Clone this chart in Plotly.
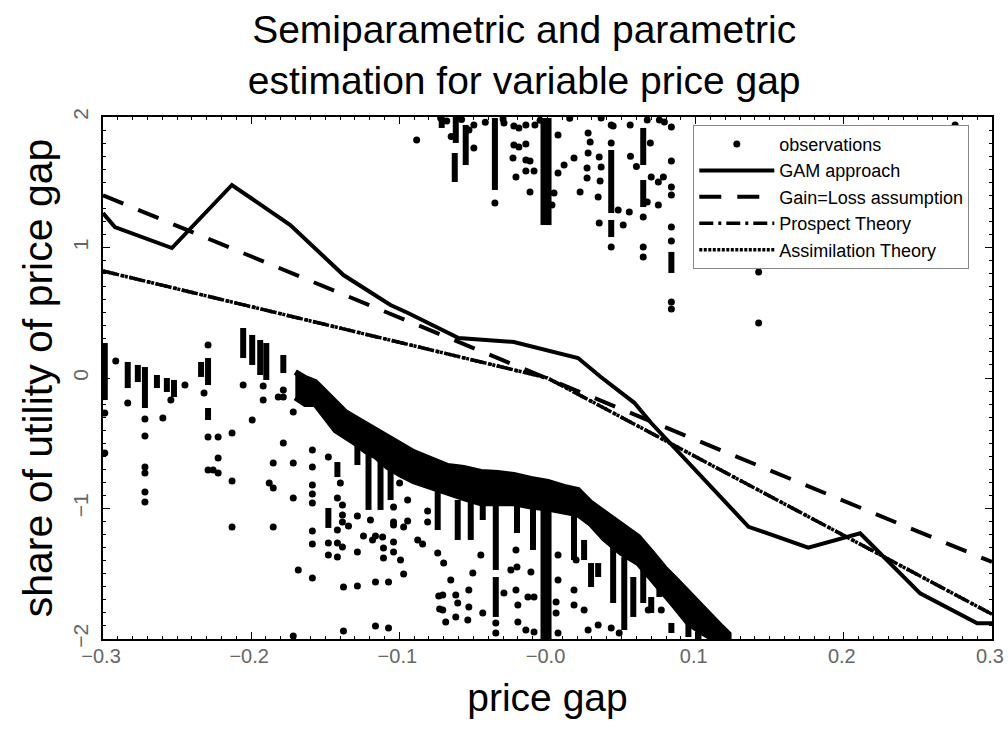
import plotly.graph_objects as go

# ---------------- data ----------------
# GAM approach (semiparametric estimate)
gam_x = [-0.300, -0.292, -0.2535, -0.213, -0.1736, -0.1377, -0.106, -0.0945, -0.060,
         -0.0227, 0.0206, 0.036, 0.0586, 0.070, 0.1357, 0.176, 0.211, 0.2515, 0.290, 0.300]
gam_y = [1.264, 1.157, 0.996, 1.479, 1.172, 0.789, 0.559, 0.50, 0.307,
         0.276, 0.153, 0.008, -0.19, -0.345, -1.14, -1.30, -1.19, -1.65, -1.88, -1.88]

# Gain=Loss assumption
gl_x = [-0.300, 0.300]
gl_y = [1.40, -1.41]

# Prospect Theory
pt_x = [-0.300, 0.000, 0.300]
pt_y = [0.82, 0.000, -1.81]

# Assimilation Theory
at_x = [-0.300, 0.000, 0.300]
at_y = [0.82, 0.000, -1.81]

# observations: single points
obs_x = [
    # upper cluster
    -0.0883, -0.0497, -0.0497, -0.0355, -0.0294, -0.0227, -0.0193, -0.0146, -0.0085, -0.0227,
    -0.0193, -0.0146, -0.0233, -0.0146, -0.0118, -0.0146, -0.0091, -0.0213, -0.0118, 0.0071,
    0.0071, 0.0112, 0.0044, 0.0030, 0.0179, 0.0220, 0.0274, 0.0288, 0.0274, 0.0267,
    0.0267, 0.0349, 0.0362, 0.0355, 0.0342, 0.0349, 0.0430, 0.0430, 0.0430, 0.0477,
    0.0511, 0.0552, 0.0558, 0.0646, 0.0646, 0.0646, 0.0673, 0.0694, 0.0700, 0.0748,
    0.0782, 0.0748, 0.0673, 0.0755, 0.0836, 0.0836, 0.0836, 0.0836, 0.0836, 0.0836,
    0.0836, 0.0836, 0.1425, 0.1425, 0.1695, 0.2751, -0.0721, 0.0362, 0.0789, 0.0443,
    -0.0680, -0.0650, -0.0580, -0.0530, -0.0420, -0.0300, -0.0050, 0.0150, 0.0560, 0.0600,
    # lower-left cluster
    -0.2988, -0.2988, -0.2914, -0.2833, -0.2717, -0.2717, -0.2717, -0.2717, -0.2717, -0.2717,
    -0.2596, -0.2542, -0.2447, -0.2318, -0.2291, -0.2291, -0.2291, -0.2223, -0.2223, -0.2257,
    -0.2223, -0.2129, -0.2129, -0.2129, -0.2054, -0.1993, -0.1919, -0.1919, -0.1851, -0.1878,
    -0.1851, -0.1851, -0.1783, -0.1783, -0.1783, -0.1817, -0.1716, -0.1716, -0.1716, -0.1682,
    -0.1716,
    -0.1587, -0.1587, -0.1587, -0.1587, -0.1587, -0.1587, -0.1587, -0.1587,
    -0.1479, -0.1479, -0.1479, -0.1398, -0.1418, -0.1384, -0.1384, -0.1384, -0.1418, -0.1418,
    -0.1384, -0.1418, -0.1377, -0.1377, -0.1343, -0.1283, -0.1283, -0.1283, -0.1242, -0.1195,
    -0.1181, -0.1161, -0.1113, -0.1107, -0.1107, -0.1161, -0.1161, -0.1073, -0.1073, -0.1039,
    -0.1039, -0.1039, -0.1039, -0.1039, -0.0992, -0.0971, -0.0998, -0.0944, -0.0944, -0.0971,
    -0.0876, -0.0843, -0.0809, -0.0809, -0.0741, -0.0734, -0.0728,
    # middle
    -0.0701, -0.0707, -0.0707, -0.0687, -0.0653, -0.0619, -0.0606, -0.0619, -0.0531, -0.0531,
    -0.0538, -0.0504, -0.0450, -0.0437, -0.0349, -0.0349, -0.0294, -0.0247, -0.0213, -0.0206,
    -0.0213, -0.0200, -0.0200, -0.0132, -0.0112, -0.0091, -0.0146, -0.0091, 0.0071, 0.0071,
    0.0058, 0.0058, 0.0071, 0.0179, 0.0179, 0.0193,
    # right
    0.0247, 0.0274, 0.0342, 0.0430, 0.0484, 0.0680, 0.0768,
]
obs_y = [
    # upper cluster
    1.824, 1.762, 1.939, 1.341, 1.954, 1.931, 1.916, 1.939, 1.939, 1.785,
    1.770, 1.793, 1.686, 1.670, 1.663, 1.586, 1.586, 1.540, 1.425, 1.862,
    1.571, 1.632, 1.418, 1.326, 1.686, 1.425, 1.877, 1.808, 1.724, 1.609,
    1.533, 1.693, 1.617, 1.510, 1.387, 1.188, 1.939, 1.801, 1.004, 1.287,
    1.172, 1.272, 1.939, 1.234, 1.004, 0.927, 1.977, 1.801, 1.540, 1.502,
    1.540, 1.326, 1.349, 1.977, 1.923, 1.663, 1.464, 1.402, 1.157, 1.050,
    0.582, 0.529, 0.812, 0.421, 0.881, 1.939, 1.992, 1.992, 1.962, 1.931,
    1.970, 1.850, 1.980, 1.900, 1.960, 1.985, 1.975, 1.990, 1.700, 1.620,
    # lower-left cluster
    -0.268, -0.575, 0.130, -0.192, -0.314, -0.444, -0.682, -0.728, -0.874, -0.950,
    -0.307, -0.169, -0.054, -0.115, 0.253, -0.452, -0.705, -0.452, -0.613, -0.705,
    -0.728, -0.421, -0.789, -1.142, -0.054, -0.322, -0.061, -0.169, -0.651, -0.805,
    -0.843, -1.142, -0.092, -0.146, -0.498, -0.146, -0.261, -0.651, -0.920, -1.471,
    -1.977,
    -0.552, -0.682, -0.820, -0.889, -0.958, -1.172, -1.272, -1.533,
    -0.605, -1.264, -1.356, -0.805, -0.920, -0.973, -1.050, -1.103, -1.165, -1.264,
    -1.295, -1.372, -1.602, -1.939, -1.134, -1.057, -1.333, -1.594, -1.211, -1.088,
    -1.241, -1.211, -1.218, -1.303, -1.379, -1.563, -1.900, -1.916, -1.563, -0.989,
    -1.103, -1.126, -1.257, -1.333, -1.395, -1.502, -0.805, -0.935, -1.096, -1.142,
    -1.241, -1.272, -1.019, -1.103, -1.341, -1.670, -1.770,
    # middle
    -1.418, -1.663, -1.778, -1.870, -1.548, -1.663, -1.724, -1.831, -1.625, -1.755,
    -1.854, -1.494, -1.356, -1.801, -1.877, -1.954, -1.648, -1.471, -1.318, -1.448,
    -1.625, -1.739, -1.870, -1.678, -1.486, -1.678, -1.931, -1.946, -1.356, -1.548,
    -1.716, -1.801, -1.954, -1.625, -1.739, -1.395,
    # right
    -1.778, -1.931, -1.893, -1.916, -1.954, -1.778, -1.778,
]

# observations: vertical runs of overlapping points (x, highest y, lowest y)
run_x = [
    -0.0714, -0.0619, -0.0626, -0.0552, -0.0355, -0.0027, 0.0007, 0.0430, 0.0430, 0.0646,
    0.0646, 0.0836,
    -0.2988, -0.2833, -0.2765, -0.2717, -0.2636, -0.2569, -0.2521, -0.2338, -0.2291, -0.2291,
    -0.2054, -0.1993, -0.1939, -0.1898, -0.1783, -0.1479, -0.1418,
    -0.1283, -0.1208, -0.1127, -0.1059,
    -0.0741, -0.0606, -0.0518, -0.0437, -0.0349, -0.0349, -0.0206, -0.0098, -0.0027, 0.0007,
    0.0179,
    0.0247, 0.0294, 0.0342, 0.0443, 0.0518, 0.0579, 0.0646, 0.0700, 0.0755, 0.0836,
    0.0951, 0.1019, 0.1127, 0.1195,
]
run_top = [
    2.000, 2.000, 1.724, 1.939, 1.992, 1.992, 1.992, 1.747, 1.211, 1.916,
    1.517, 0.966,
    0.268, 0.123, 0.100, 0.084, 0.023, 0.000, -0.015, 0.123, 0.153, -0.230,
    0.383, 0.330, 0.291, 0.268, 0.176, -0.996, -0.644,
    -0.322, -0.360, -0.437, -0.475,
    -0.782, -0.935, -0.912, -0.935, -0.881, -1.525, -0.912, -0.912, -0.912, -0.912,
    -0.989,
    -1.241, -1.418, -1.418, -1.218, -1.372, -1.525, -1.471, -1.678, -1.471, -1.877,
    -1.778, -1.831, -1.877, -1.931,
]
run_bot = [
    1.916, 1.801, 1.502, 1.632, 1.441, 1.172, 1.172, 1.264, 1.080, 1.632,
    1.310, 0.805,
    -0.169, -0.077, -0.031, -0.230, -0.077, -0.107, -0.146, 0.008, -0.054, -0.322,
    0.153, 0.100, 0.023, -0.015, 0.038, -1.149, -0.759,
    -0.667, -1.011, -1.011, -0.935,
    -1.165, -1.241, -1.241, -1.088, -1.471, -1.831, -1.188, -1.318, -2.000, -2.000,
    -1.395,
    -1.395, -1.602, -1.525, -1.724, -1.931, -1.831, -1.724, -1.801, -1.678, -1.954,
    -1.985, -2.000, -2.000, -2.000,
]

# observations: dense mass (x, upper edge, lower edge)
mass_x = [-0.1702, -0.1635, -0.1567, -0.1499, -0.1431, -0.1364, -0.1296, -0.1228, -0.1161, -0.1080,
          -0.0992, -0.0904, -0.0789, -0.0673, -0.0565, -0.0450, -0.0335, -0.0227, -0.0112, 0.0003,
          0.0112, 0.0206, 0.0294, 0.0382, 0.0497, 0.0613, 0.0700, 0.0789, 0.0870, 0.0951,
          0.1039, 0.1107, 0.1174, 0.1222]
mass_top = [0.046, 0.000, -0.031, -0.107, -0.192, -0.261, -0.307, -0.352, -0.398, -0.452,
            -0.513, -0.567, -0.621, -0.674, -0.690, -0.720, -0.728, -0.743, -0.774, -0.797,
            -0.835, -0.858, -0.958, -1.027, -1.119, -1.218, -1.333, -1.456, -1.548, -1.648,
            -1.755, -1.831, -1.908, -1.962]
mass_bot = [-0.150, -0.200, -0.200, -0.300, -0.400, -0.450, -0.500, -0.560, -0.600, -0.680,
            -0.740, -0.790, -0.840, -0.880, -0.920, -0.960, -0.960, -0.960, -0.985, -1.000,
            -1.020, -1.045, -1.120, -1.230, -1.340, -1.420, -1.535, -1.650, -1.765, -1.880,
            -1.946, -1.992, -2.000, -2.000]

x_ticks = [-0.3, -0.2, -0.1, 0.0, 0.1, 0.2, 0.3]
x_ticktext = ["\u22120.3", "\u22120.2", "\u22120.1", "\u22120.0", "0.1", "0.2", "0.3"]
y_ticks = [-2, -1, 0, 1, 2]
y_ticktext = ["\u22122", "\u22121", "0", "1", "2"]

# ---------------- figure ----------------
FONT = "Liberation Sans, Arial, sans-serif"
fig = go.Figure()

# points
fig.add_trace(go.Scatter(
    x=obs_x, y=obs_y, mode="markers", name="observations", legendgroup="obs",
    marker=dict(color="black", size=7, line=dict(width=0)),
))
# vertical runs of points
sx, sy = [], []
for xv, t, b in zip(run_x, run_top, run_bot):
    sx += [xv, xv, None]
    sy += [t, b, None]
fig.add_trace(go.Scatter(
    x=sx, y=sy, mode="lines", legendgroup="obs", showlegend=False,
    line=dict(color="black", width=6), hoverinfo="skip",
))
# dense mass of points
fig.add_trace(go.Scatter(
    x=mass_x + mass_x[::-1], y=mass_top + mass_bot[::-1], mode="lines",
    fill="toself", fillcolor="black", legendgroup="obs", showlegend=False,
    line=dict(color="black", width=6), hoverinfo="skip",
))

fig.add_trace(go.Scatter(x=gam_x, y=gam_y, mode="lines", name="GAM approach",
                         line=dict(color="black", width=4)))
fig.add_trace(go.Scatter(x=gl_x, y=gl_y, mode="lines", name="Gain=Loss assumption",
                         line=dict(color="black", width=4, dash="22px,16px")))
fig.add_trace(go.Scatter(x=pt_x, y=pt_y, mode="lines", name="Prospect Theory",
                         line=dict(color="black", width=3.5, dash="14px,5px,3px,5px")))
fig.add_trace(go.Scatter(x=at_x, y=at_y, mode="lines", name="Assimilation Theory",
                         line=dict(color="black", width=3.5, dash="3px,1.5px")))

axis_common = dict(
    showline=True, linecolor="black", linewidth=1.5, mirror="allticks",
    ticks="inside", ticklen=7, tickwidth=1, tickcolor="black",
    showgrid=False, zeroline=False, automargin=False,
)

fig.update_xaxes(
    range=[-0.3, 0.3], tickvals=x_ticks, ticktext=x_ticktext,
    tickfont=dict(family=FONT, size=20, color="#666666"),
    minor=dict(ticks="inside", ticklen=3, dtick=0.01, tickcolor="black"),
    ticklabelstandoff=-2, ticklabelshift=-2,
    title=dict(text="price gap", font=dict(family=FONT, size=39, color="black"), standoff=18),
    **axis_common,
)
fig.update_yaxes(
    range=[-2, 2], tickvals=y_ticks, ticktext=y_ticktext, tickangle=-90,
    tickfont=dict(family=FONT, size=21, color="#666666"),
    minor=dict(ticks="inside", ticklen=3, dtick=0.1, tickcolor="black"),
    ticklabelstandoff=5,
    title=dict(text="share of utility of price gap",
               font=dict(family=FONT, size=41, color="black"), standoff=3),
    **axis_common,
)

fig.update_layout(
    width=1008, height=732,
    margin=dict(l=103, r=16, t=117, b=93),
    paper_bgcolor="white", plot_bgcolor="white",
    title=dict(text="Semiparametric and parametric<br>estimation for variable price gap",
               xref="container", yref="container",
               x=0.520, xanchor="center", y=0.941, yanchor="middle",
               font=dict(family=FONT, size=39, color="black")),
    legend=dict(x=0.664, y=0.985, xanchor="left", yanchor="top",
                bgcolor="white", bordercolor="#888888", borderwidth=1,
                font=dict(family=FONT, size=18, color="black"),
                itemwidth=75, tracegroupgap=0),
    showlegend=True,
)

fig.write_html("out.html", config={"displayModeBar": False},
               post_script="document.body.style.margin='0';")
